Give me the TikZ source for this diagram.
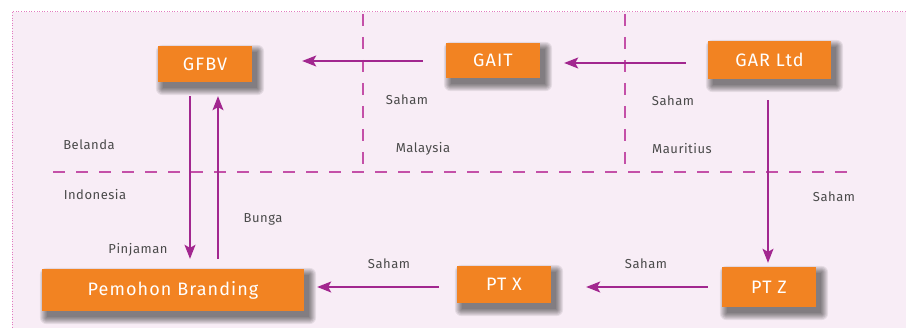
\documentclass[tikz,border=0pt]{standalone}
\usepackage{fontspec}
\setmainfont{Fira Sans}
\newfontfamily\boxfont[LetterSpace=6]{Fira Sans}
\newfontfamily\labfont[LetterSpace=4]{Fira Sans}
\usetikzlibrary{positioning,arrows.meta}
\definecolor{garorange}{HTML}{F28322}
\definecolor{flowpurple}{HTML}{A2278F}
\definecolor{dashpink}{HTML}{C450A8}
\definecolor{dotpink}{HTML}{E27CC0}
\definecolor{bgpink}{HTML}{F8EDF6}
\definecolor{labelgray}{HTML}{4A4A4A}
\pgfdeclarelayer{bg}
\pgfdeclarelayer{shade}
\pgfsetlayers{bg,shade,main}

\begin{document}
\begin{tikzpicture}[x=1pt, y=-1pt,
boxnode/.style={rectangle, fill=garorange, text=white, inner sep=0pt, font=\boxfont\fontsize{18}{20}\selectfont},
labelnode/.style={text=labelgray, inner sep=0pt, font=\labfont\fontsize{13}{15}\selectfont},
flow/.style={draw=flowpurple, line width=1.5pt, -{Stealth[length=14pt, width=11pt, inset=3pt]}},
divider/.style={draw=dashpink, line width=1.3pt, dash pattern=on 12pt off 11pt},
]
\useasboundingbox (0,0) rectangle (906,328);
%Background
\begin{pgfonlayer}{bg}
\fill[bgpink] (12,12) rectangle (906,328);
\draw[dotpink, line width=1pt, dash pattern=on 1pt off 1.6pt] (906,12) -- (12,12) -- (12,328);
\draw[divider] (363,14) -- (363,172);
\draw[divider] (625,14) -- (625,172);
\draw[divider] (53,172) -- (858,172);
\end{pgfonlayer}

%Nodes
\node[boxnode, minimum width=94pt, minimum height=36pt]   (GFBV)     at (205,64)    {GFBV};
\node[boxnode, minimum width=94pt, minimum height=35pt]   (GAIT)     at (493,60.5)  {GAIT};
\node[boxnode, minimum width=123pt, minimum height=38pt]  (GAR)      at (769.5,60)  {GAR Ltd};
\node[boxnode, minimum width=262pt, minimum height=42pt]  (Pemohon)  at (173,290)   {Pemohon Branding};
\node[boxnode, minimum width=94pt, minimum height=37pt]   (PTX)      at (504,284.5) {PT X};
\node[boxnode, minimum width=94pt, minimum height=40pt]   (PTZ)      at (769,287)   {PT Z};

\node[labelnode] (SahamA)    at (407,100) {Saham};
\node[labelnode] (SahamB)    at (673,101) {Saham};
\node[labelnode] (Belanda)   at (89,145)  {Belanda};
\node[labelnode] (Malaysia)  at (423,149) {Malaysia};
\node[labelnode] (Mauritius) at (682,149) {Mauritius};
\node[labelnode] (Indonesia) at (95,195)  {Indonesia};
\node[labelnode] (Bunga)     at (263,219) {Bunga};
\node[labelnode] (Pinjaman)  at (138,250) {Pinjaman};
\node[labelnode] (SahamC)    at (389,264) {Saham};
\node[labelnode] (SahamD)    at (834,197) {Saham};
\node[labelnode] (SahamE)    at (646,264) {Saham};

%Shadows
\begin{pgfonlayer}{shade}
\foreach \n in {GFBV,GAIT,GAR,Pemohon,PTX,PTZ}
  \foreach \r in {0,...,7}
    \fill[black, opacity=0.075, rounded corners=\r pt] ([shift={(5-\r,6+\r)}]\n.south west) rectangle ([shift={(5+\r,6-\r)}]\n.north east);
\end{pgfonlayer}

%Lines
\draw[flow, shorten <=23pt, shorten >=50pt] ([yshift=-0.5pt]GAIT.west) -- ([yshift=-0.5pt]GAIT.west -| GFBV.east);
\draw[flow, shorten <=22pt, shorten >=24pt] ([yshift=-3pt]GAR.west) -- ([yshift=-3pt]GAR.west -| GAIT.east);
\draw[flow, shorten <=21pt, shorten >=4pt] ([xshift=-1.5pt]GAR.south) -- ([xshift=-1.5pt]GAR.south |- PTZ.north);
\draw[flow, shorten <=14pt, shorten >=10pt] ([xshift=-15pt]GFBV.south) -- ([xshift=-15pt]GFBV.south |- Pemohon.north);
\draw[flow, shorten <=10pt, shorten >=14pt] ([xshift=13pt]GFBV.south |- Pemohon.north) -- ([xshift=13pt]GFBV.south);
\draw[flow, shorten <=14pt, shorten >=35pt] (PTZ.west |- PTX.east) ++(0,2.5) -- ([yshift=-2.5pt]PTX.east);
\draw[flow, shorten <=18pt, shorten >=13pt] ([yshift=-2.5pt]PTX.west) -- ([yshift=-2.5pt]PTX.west -| Pemohon.east);
\end{tikzpicture}
\end{document}
